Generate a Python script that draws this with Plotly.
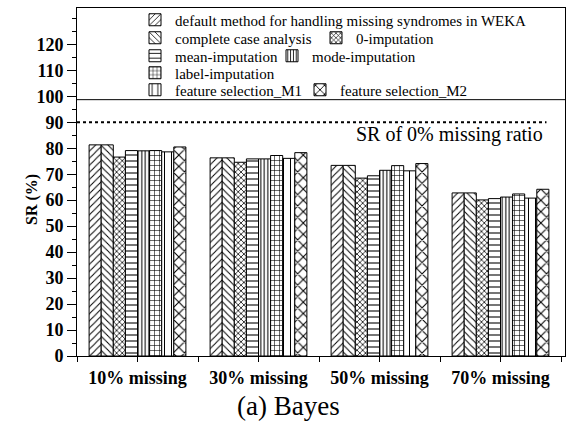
import plotly.graph_objects as go

# Classification success rate (%) of the Bayes classifier per missing ratio
categories = ["10% missing", "30% missing", "50% missing", "70% missing"]
methods = [
    "default method for handling missing syndromes in WEKA",
    "complete case analysis",
    "0-imputation",
    "mean-imputation",
    "mode-imputation",
    "label-imputation",
    "feature selection_M1",
    "feature selection_M2",
]
sr_default = [81.3, 76.3, 73.4, 62.8]
sr_complete_case = [81.3, 76.3, 73.4, 62.8]
sr_zero_imp = [76.6, 74.6, 68.5, 60.1]
sr_mean_imp = [79.1, 75.9, 69.4, 60.6]
sr_mode_imp = [79.0, 75.9, 71.5, 61.2]
sr_label_imp = [79.1, 77.2, 73.3, 62.4]
sr_fs_m1 = [78.6, 76.1, 71.3, 60.8]
sr_fs_m2 = [80.5, 78.3, 74.1, 64.2]
sr_no_missing = 90.0
y_ticks = list(range(0, 121, 10))

series = [sr_default, sr_complete_case, sr_zero_imp, sr_mean_imp,
          sr_mode_imp, sr_label_imp, sr_fs_m1, sr_fs_m2]

# hatch style of each method: (shape, size, solidity)
hatches = [("/", 5, 0.2), ("\\", 5, 0.2), ("x", 4, 0.35), ("-", 6, 0.18),
           ("|", 3.5, 0.3), ("+", 5, 0.22), ("|", 7, 0.15), ("x", 8, 0.25)]

SERIF = "Liberation Serif, Times New Roman, serif"
W, H = 566, 424
L, R, T, B = 77, 1, 8, 68
PW, PH = W - L - R, H - T - B

# legend entries: (row center y px, text start x px) per method
legend_pos = [(20, 175), (38, 175), (38, 356), (56, 175), (56, 312),
              (73, 175), (90, 175), (90, 340)]

x_idx = list(range(len(categories)))
fig = go.Figure()
legend_layouts = {}
for i, (name, vals, (shp, sz, sol)) in enumerate(zip(methods, series, hatches)):
    key = "legend" if i == 0 else f"legend{i + 1}"
    fig.add_trace(go.Bar(
        x=x_idx, y=vals, name=name, legend=key,
        marker=dict(color="white", line=dict(color="black", width=1),
                    pattern=dict(shape=shp, size=sz, solidity=sol,
                                 fgcolor="black", bgcolor="white",
                                 fillmode="replace")),
    ))
    yc, xt = legend_pos[i]
    legend_layouts[key] = dict(
        x=(xt - 40 - L) / PW, xanchor="left",
        y=1 - (yc - T) / PH, yanchor="middle",
        orientation="h", bgcolor="rgba(0,0,0,0)", borderwidth=0,
        font=dict(family=SERIF, size=15, color="black"),
        tracegroupgap=0,
    )

fig.update_layout(
    width=W, height=H,
    margin=dict(l=L, r=R, t=T, b=B, pad=0),
    paper_bgcolor="white", plot_bgcolor="white",
    font=dict(family=SERIF, size=15, color="black"),
    barmode="group", bargap=0.2, bargroupgap=0,
    showlegend=True,
    **legend_layouts,
)

x_right = -0.5 + 4 * PW / (4 * 121)
fig.update_xaxes(
    range=[-0.5, x_right], tickmode="array", tickvals=x_idx, ticktext=categories,
    ticks="outside", ticklen=5, tickwidth=1, tickcolor="black",
    minor=dict(tickmode="linear", tick0=-0.5, dtick=1, ticks="outside",
               ticklen=5, tickwidth=1, tickcolor="black"),
    showline=True, linecolor="black", linewidth=1, mirror=True,
    showgrid=False, zeroline=False,
    tickfont=dict(family=SERIF, size=18, color="black", weight="bold"),
)
fig.update_yaxes(
    range=[0, 134], tickmode="array", tickvals=y_ticks,
    ticks="outside", ticklen=9, tickwidth=1, tickcolor="black",
    minor=dict(tickmode="linear", tick0=0, dtick=5, ticks="outside",
               ticklen=4, tickwidth=1, tickcolor="black"),
    showline=True, linecolor="black", linewidth=1, mirror=True,
    showgrid=False, zeroline=False,
    tickfont=dict(family=SERIF, size=18, color="black", weight="bold"),
)

# legend frame bottom edge
fig.add_shape(type="line", xref="paper", yref="y", x0=0, x1=1, y0=98.7, y1=98.7,
              line=dict(color="black", width=1))
# reference success rate without missing values
fig.add_shape(type="line", xref="x", yref="y", x0=-0.5, x1=3.38,
              y0=sr_no_missing, y1=sr_no_missing,
              line=dict(color="black", width=2, dash="dot"))
fig.add_annotation(x=3.37, y=sr_no_missing - 4.8, xref="x", yref="y",
                   xanchor="right", yanchor="middle", showarrow=False,
                   text="SR of 0% missing ratio",
                   font=dict(family=SERIF, size=20, color="black"))
fig.add_annotation(x=(32 - L) / PW, y=(H - B - 200) / PH, xref="paper", yref="paper",
                   xanchor="center", yanchor="middle", showarrow=False,
                   text="SR (%)", textangle=-90,
                   font=dict(family=SERIF, size=16, color="black", weight="bold"))
fig.add_annotation(x=(288 - L) / PW, y=-(406 - (H - B)) / PH, xref="paper", yref="paper",
                   xanchor="center", yanchor="middle", showarrow=False,
                   text="(a) Bayes",
                   font=dict(family=SERIF, size=27, color="black"))

fig.write_html("out.html")
